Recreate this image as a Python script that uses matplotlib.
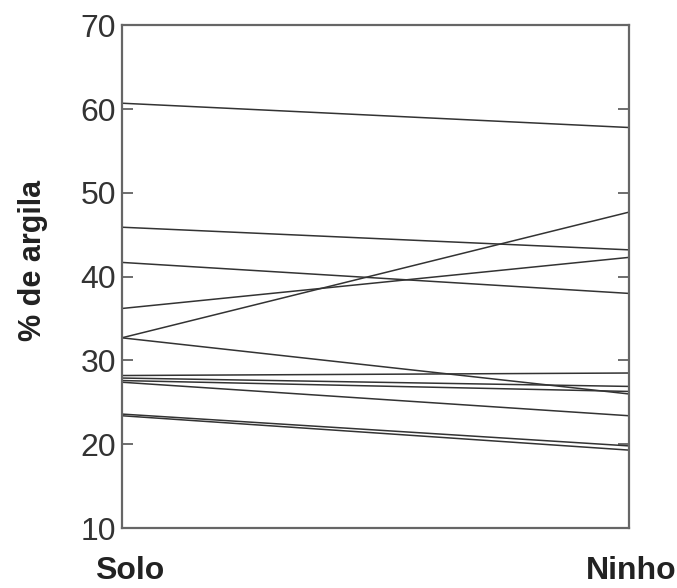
import matplotlib
matplotlib.use("Agg")
import matplotlib.pyplot as plt

groups = ["Solo", "Ninho"]
solo = [60.7, 45.9, 41.7, 36.2, 32.7, 32.7, 28.2, 27.9, 27.6, 27.4, 23.6, 23.4]
ninho = [57.8, 43.2, 38.0, 42.3, 47.7, 26.0, 28.5, 26.9, 26.3, 23.4, 19.8, 19.3]
yticks = [10, 20, 30, 40, 50, 60, 70]

plt.rcParams['font.family'] = ['Liberation Sans', 'DejaVu Sans']
fig = plt.figure(figsize=(6.77, 5.88), dpi=100)
ax = fig.add_axes([0.180, 0.102, 0.749, 0.855])

for s, n in zip(solo, ninho):
    ax.plot([0, 1], [s, n], color='#333333', lw=1.1)

ax.set_xlim(0, 1)
ax.set_ylim(10, 70)
ax.set_yticks(yticks)
ax.set_xticks([])
for i, (g, dx) in enumerate(zip(groups, [8, 2])):
    ax.annotate(g, xy=(i, 0), xycoords=('data', 'axes fraction'),
                xytext=(dx, -43), textcoords='offset pixels',
                ha='center', va='center', fontsize=23, fontweight='bold',
                color='#222222', annotation_clip=False)
ax.tick_params(axis='y', direction='in', length=8, width=1.2, color='#555555',
               labelsize=23, labelcolor='#333333', right=True, pad=4)
for sp in ax.spines.values():
    sp.set_color('#666666')
    sp.set_linewidth(1.6)
ax.set_ylabel('% de argila', fontsize=22, fontweight='bold', color='#222222')
ax.yaxis.set_label_coords(-0.146, 0.533)

fig.savefig('out.png', dpi=100)
